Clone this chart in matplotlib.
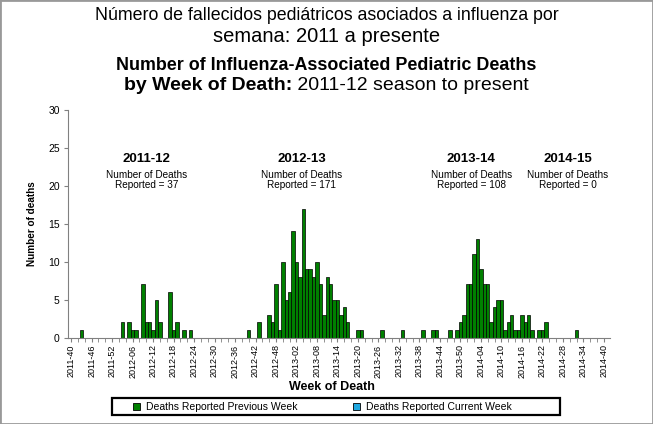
import matplotlib
matplotlib.use("Agg")
import matplotlib.pyplot as plt
from matplotlib.patches import Rectangle
import numpy as np

plt.rcParams["font.family"] = ["Liberation Sans", "DejaVu Sans"]

# weekly categories, 2011-40 .. 2014-40 (52-week years)
weeks = []
for year, first, last in [(2011, 40, 52), (2012, 1, 52), (2013, 1, 52), (2014, 1, 40)]:
    weeks += [f"{year}-{w:02d}" for w in range(first, last + 1)]

# weeks with at least one reported death, and the counts
death_weeks = [
    "2011-43",
    "2012-03", "2012-05", "2012-06", "2012-07", "2012-09", "2012-10", "2012-11",
    "2012-12", "2012-13", "2012-14", "2012-17", "2012-18", "2012-19", "2012-21",
    "2012-23",
    "2012-40", "2012-43", "2012-46", "2012-47", "2012-48", "2012-49", "2012-50",
    "2012-51", "2012-52", "2013-01", "2013-02", "2013-03", "2013-04", "2013-05",
    "2013-06", "2013-07", "2013-08", "2013-09", "2013-10", "2013-11", "2013-12",
    "2013-13", "2013-14", "2013-15", "2013-16", "2013-17", "2013-20", "2013-21",
    "2013-27", "2013-33", "2013-39",
    "2013-42", "2013-43", "2013-47", "2013-49", "2013-50", "2013-51", "2013-52",
    "2014-01", "2014-02", "2014-03", "2014-04", "2014-05", "2014-06", "2014-07",
    "2014-08", "2014-09", "2014-10", "2014-11", "2014-12", "2014-13", "2014-14",
    "2014-15", "2014-16", "2014-17", "2014-18", "2014-19", "2014-21", "2014-22",
    "2014-23", "2014-32",
]
death_counts = [
    1,
    2, 2, 1, 1, 7, 2, 2, 1, 5, 2, 6, 1, 2, 1, 1,
    1, 2, 3, 2, 7, 1, 10, 5, 6, 14, 10, 8, 17, 9, 9, 8, 10, 7, 3, 8, 7, 5, 5,
    3, 4, 2, 1, 1, 1, 1, 1,
    1, 1, 1, 1, 2, 3, 7, 7, 11, 13, 9, 7, 7, 2, 4, 5, 5, 1, 2, 3, 1, 1, 3, 2,
    3, 1, 1, 1, 2, 1,
]

seasons = ["2011-12", "2012-13", "2013-14", "2014-15"]
season_totals = [37, 171, 108, 0]
season_label_x = [22.2, 67.6, 117.2, 145.5]   # layout only (week index)

legend_labels = ["Deaths Reported Previous Week", "Deaths Reported Current Week"]
legend_colors = ["#008000", "#1fa8e0"]

deaths = np.zeros(len(weeks))
for wk, n in zip(death_weeks, death_counts):
    deaths[weeks.index(wk)] = n

W, H = 653, 424
fig = plt.figure(figsize=(W / 100, H / 100), dpi=100)
ax = fig.add_axes([68 / W, 1 - 337.5 / H, 542 / W, 227.5 / H])

x = np.arange(len(weeks))
ax.bar(x, deaths, width=1.0, color=legend_colors[0], edgecolor="black", linewidth=0.5)

ax.set_xlim(-0.91, 157.8)
ax.set_ylim(0, 30)
ax.set_yticks(range(0, 31, 5))
ax.set_xticks(x[::6])
ax.set_xticklabels(weeks[::6], rotation=90, fontsize=6.5)
ax.set_xticks(x[::2], minor=True)
ax.tick_params(axis="y", labelsize=7.5, length=3, color="#808080", pad=3)
ax.tick_params(axis="x", which="both", length=3, color="#808080", pad=2)
for side in ("top", "right"):
    ax.spines[side].set_visible(False)
for side in ("left", "bottom"):
    ax.spines[side].set_color("#808080")
    ax.spines[side].set_linewidth(0.8)

ax.set_ylabel("Number of deaths", fontsize=7.2, fontweight="bold", labelpad=8)
fig.text(332 / W, 1 - 387 / H, "Week of Death", ha="center", va="center",
         fontsize=9, fontweight="bold")

for name, total, sx in zip(seasons, season_totals, season_label_x):
    ax.text(sx, 23.6, name, ha="center", va="center", fontsize=9.5, fontweight="bold")
    ax.text(sx, 21.4, "Number of Deaths", ha="center", va="center", fontsize=7.2)
    ax.text(sx, 20.1, f"Reported = {total}", ha="center", va="center", fontsize=7.2)

# titles
fig.text(0.5, 1 - 15 / H, "Número de fallecidos pediátricos asociados a influenza por",
         ha="center", va="center", fontsize=12.8)
fig.text(0.5, 1 - 36 / H, "semana: 2011 a presente", ha="center", va="center",
         fontsize=14.5)
fig.text(0.5, 1 - 66 / H, "Number of Influenza-Associated Pediatric Deaths",
         ha="center", va="center", fontsize=12.9, fontweight="bold")
t1 = fig.text(0.5, 1 - 86 / H, "by Week of Death:", ha="left", va="center",
              fontsize=14, fontweight="bold")
t2 = fig.text(0.5, 1 - 86 / H, " 2011-12 season to present", ha="left", va="center",
              fontsize=14)
renderer = fig.canvas.get_renderer()
w1 = t1.get_window_extent(renderer).width
w2 = t2.get_window_extent(renderer).width
x0 = (W - w1 - w2) / 2
t1.set_x(x0 / W)
t2.set_x((x0 + w1) / W)

# legend box drawn by hand to match the original layout
fig.patches.append(Rectangle((112 / W, 1 - 415 / H), 448 / W, 17 / H,
                             transform=fig.transFigure, fill=False,
                             edgecolor="black", linewidth=1.6))
for label, color, lx in zip(legend_labels, legend_colors, [133, 353]):
    fig.patches.append(Rectangle((lx / W, 1 - 410 / H), 7 / W, 7 / H,
                                 transform=fig.transFigure, facecolor=color,
                                 edgecolor="black", linewidth=0.6))
    fig.text((lx + 13) / W, 1 - 406.5 / H, label, ha="left", va="center",
             fontsize=7.5)

fig.patches.append(Rectangle((0, 0), 1, 1, transform=fig.transFigure, fill=False,
                             edgecolor="#999999", linewidth=2))

fig.savefig("out.png", dpi=100)
